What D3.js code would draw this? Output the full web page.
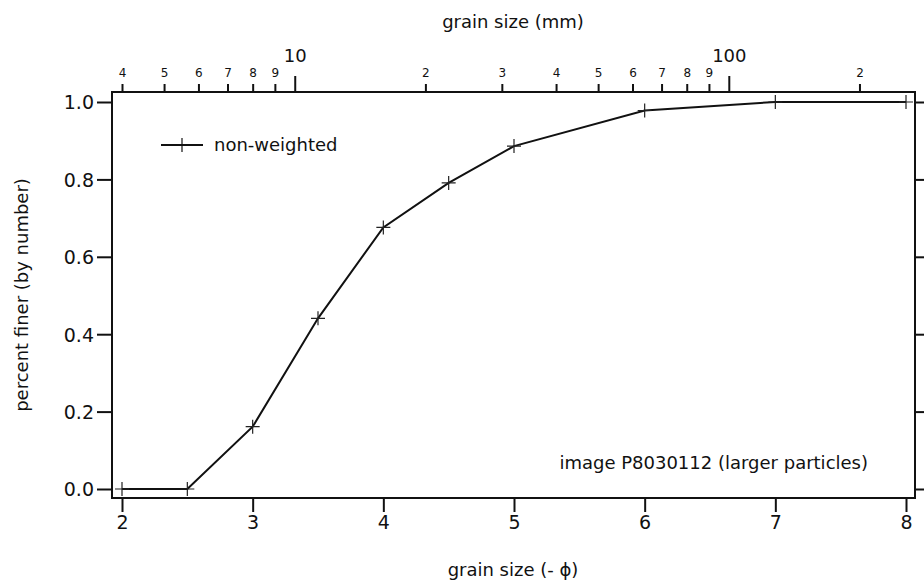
<!DOCTYPE html>
<html>
<head>
<meta charset="utf-8">
<script src="https://cdn.jsdelivr.net/npm/d3@7"></script>
<style>
  html, body { margin: 0; padding: 0; background: #fff; }
  svg text { font-family: "DejaVu Sans", sans-serif; fill: #111; }
</style>
</head>
<body>
<svg id="chart" width="924" height="586"></svg>
<script>
// Cumulative grain-size distribution (phi units, -log2 of mm)
const phiValues = [2, 2.5, 3, 3.5, 4, 4.5, 5, 6, 7, 8];
const fractionFiner = [0, 0, 0.161, 0.441, 0.676, 0.791, 0.886, 0.978, 1.0, 1.0];

const phiTicks = [2, 3, 4, 5, 6, 7, 8];
const fractionTicks = [0, 0.2, 0.4, 0.6, 0.8, 1.0];
const mmMajorTicks = [10, 100];
const mmMinorTicks = [4, 5, 6, 7, 8, 9, 20, 30, 40, 50, 60, 70, 80, 90, 200];

const seriesName = "non-weighted";
const noteText = "image P8030112 (larger particles)";

const svg = d3.select("#chart");
const box = { left: 112, right: 915, top: 92, bottom: 498 };

// phi=2 sits at x=122, phi=8 at x=906
const pxPerPhi = (906 - 122) / 6;
const x = d3.scaleLinear()
  .domain([2 - (122 - box.left) / pxPerPhi, 8 + (box.right - 906) / pxPerPhi])
  .range([box.left, box.right]);
const y = d3.scaleLinear()
  .domain([-(box.bottom - 489) / 387, 1 + (102 - box.top) / 387])
  .range([box.bottom, box.top]);
// top axis in millimetres: mm = 2^phi
const xmm = d3.scaleLog()
  .domain([Math.pow(2, x.domain()[0]), Math.pow(2, x.domain()[1])])
  .range([box.left, box.right]);

const axisStroke = 2;

// bottom axis
const bottom = svg.append("g").attr("transform", `translate(0,${box.bottom})`)
  .call(d3.axisBottom(x).tickValues(phiTicks).tickFormat(d3.format("d")).tickSize(14).tickSizeOuter(0));
bottom.selectAll("text").attr("font-size", 19).attr("y", 31).attr("dy", null);

// left axis
const left = svg.append("g").attr("transform", `translate(${box.left},0)`)
  .call(d3.axisLeft(y).tickValues(fractionTicks).tickFormat(d3.format(".1f")).tickSize(15).tickSizeOuter(0));
left.selectAll("text").attr("font-size", 19).attr("x", -18).attr("dy", "0.36em");

// right axis (ticks only)
svg.append("g").attr("transform", `translate(${box.right},0)`)
  .call(d3.axisRight(y).tickValues(fractionTicks).tickFormat("").tickSize(15).tickSizeOuter(0));

// top axis, minor then major decades
const topMinor = svg.append("g").attr("transform", `translate(0,${box.top})`)
  .call(d3.axisTop(xmm).tickValues(mmMinorTicks)
    .tickFormat(d => String(d).charAt(0)).tickSize(8).tickSizeOuter(0));
topMinor.selectAll("text").attr("font-size", 12).attr("y", -15).attr("dy", null);
const topMajor = svg.append("g").attr("transform", `translate(0,${box.top})`)
  .call(d3.axisTop(xmm).tickValues(mmMajorTicks).tickFormat(d3.format("d")).tickSize(16).tickSizeOuter(0));
topMajor.selectAll("text").attr("font-size", 18).attr("y", -30).attr("dy", null);

svg.selectAll(".domain").remove();
svg.selectAll(".tick line").attr("stroke", "#111").attr("stroke-width", axisStroke);

// frame
svg.append("rect")
  .attr("x", box.left).attr("y", box.top)
  .attr("width", box.right - box.left).attr("height", box.bottom - box.top)
  .attr("fill", "none").attr("stroke", "#111").attr("stroke-width", axisStroke);

// axis titles
svg.append("text").attr("x", 513).attr("y", 28).attr("text-anchor", "middle")
  .attr("font-size", 18).text("grain size (mm)");
svg.append("text").attr("x", 513).attr("y", 576).attr("text-anchor", "middle")
  .attr("font-size", 18).text("grain size (- \u03D5)");
svg.append("text").attr("transform", "translate(28,295) rotate(-90)")
  .attr("text-anchor", "middle").attr("font-size", 18).text("percent finer (by number)");

// data line and markers
const pts = phiValues.map((p, i) => [p, fractionFiner[i]]);
svg.append("path").datum(pts)
  .attr("fill", "none").attr("stroke", "#111").attr("stroke-width", 2)
  .attr("d", d3.line().x(d => x(d[0])).y(d => y(d[1])));

const m = 7;
svg.append("g").selectAll("path").data(pts).join("path")
  .attr("d", d => `M${x(d[0]) - m},${y(d[1])}H${x(d[0]) + m}M${x(d[0])},${y(d[1]) - m}V${y(d[1]) + m}`)
  .attr("stroke", "#222").attr("stroke-width", 1.2).attr("fill", "none");

// legend
const lg = svg.append("g");
lg.append("line").attr("x1", 161).attr("x2", 203).attr("y1", 145).attr("y2", 145)
  .attr("stroke", "#111").attr("stroke-width", 2);
lg.append("path").attr("d", `M182,${145 - m}V${145 + m}`).attr("stroke", "#111").attr("stroke-width", 1.2);
lg.append("text").attr("x", 214).attr("y", 151).attr("font-size", 18).text(seriesName);

// annotation
svg.append("text").attr("x", 868).attr("y", 469).attr("text-anchor", "end")
  .attr("font-size", 18).text(noteText);
</script>
</body>
</html>
